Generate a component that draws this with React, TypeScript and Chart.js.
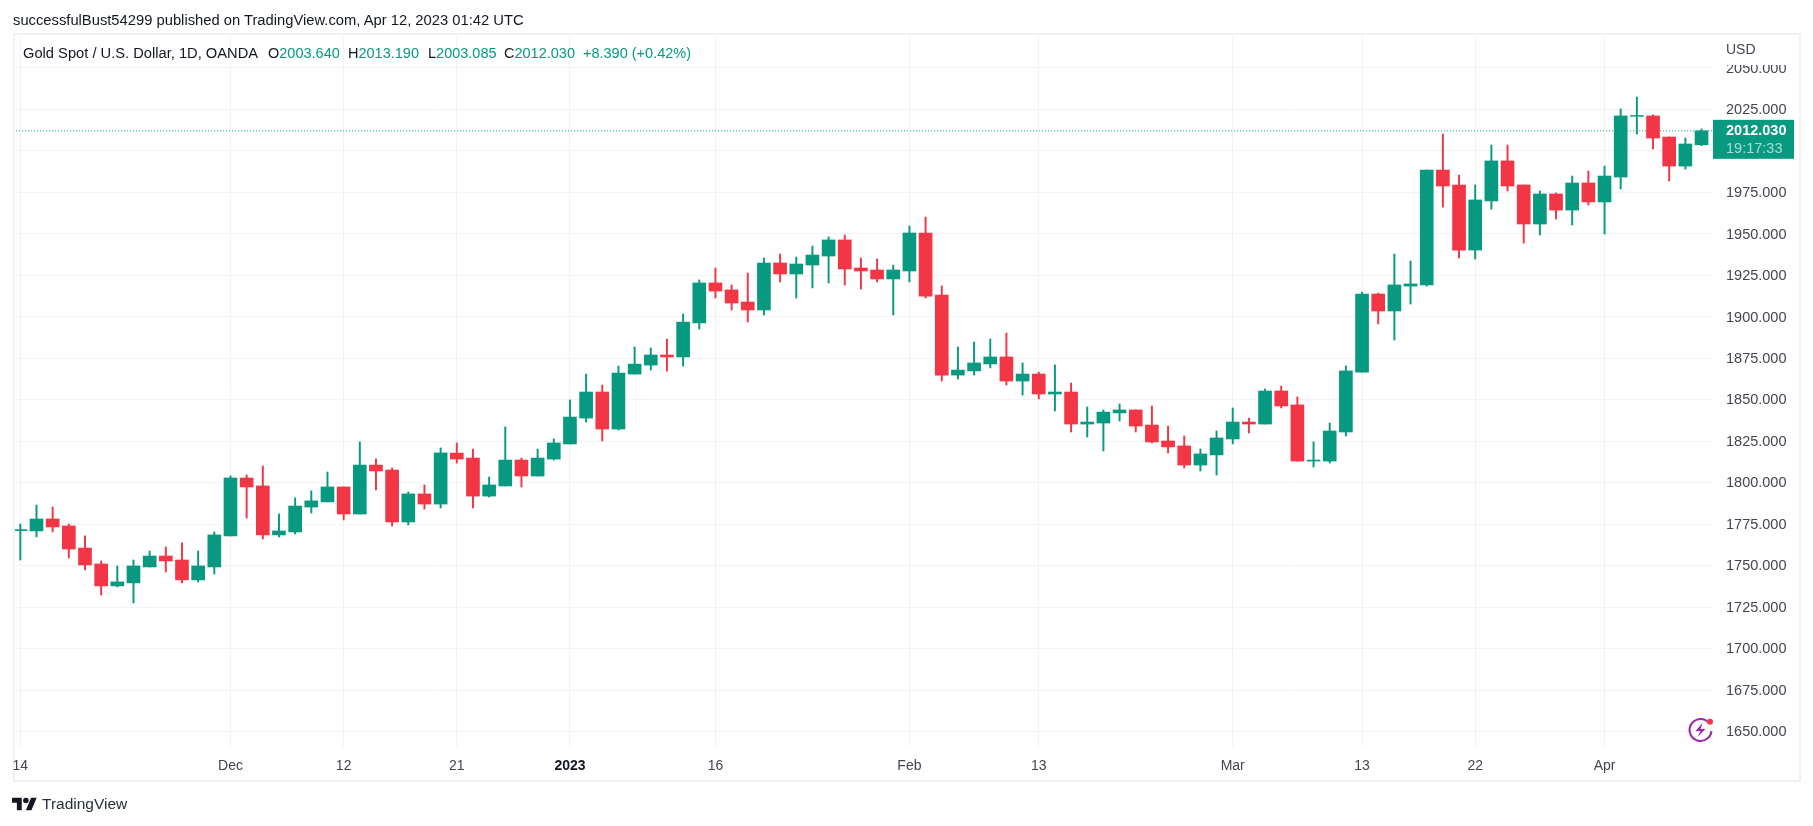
import React, { useEffect, useRef } from "react";
import { Chart, registerables } from "chart.js";

Chart.register(...registerables);

const opens = [1771.2,1771.0,1778.2,1774.0,1760.7,1751.1,1737.9,1739.7,1749.3,1755.9,1753.5,1741.5,1749.3,1768.0,1802.9,1798.1,1768.6,1770.4,1785.4,1788.5,1797.5,1781.2,1810.7,1807.7,1776.4,1793.3,1787.2,1817.9,1814.9,1792.0,1798.1,1813.7,1804.1,1814.3,1823.4,1839.0,1854.7,1832.4,1865.5,1870.9,1877.0,1875.8,1896.3,1920.4,1916.2,1908.9,1904.1,1932.4,1925.8,1931.2,1936.6,1946.3,1929.4,1928.2,1922.8,1927.6,1950.5,1913.1,1864.9,1867.4,1871.6,1875.8,1861.3,1865.5,1853.5,1854.7,1835.4,1836.0,1842.1,1843.9,1834.8,1825.2,1822.2,1810.7,1816.8,1826.4,1836.6,1835.4,1855.3,1846.9,1813.1,1813.1,1830.6,1866.7,1913.7,1903.5,1918.5,1919.2,1988.4,1979.4,1940.2,1969.8,1993.9,1979.4,1955.9,1974.0,1964.3,1980.6,1969.2,1984.2,2020.8,2021.0,2008.3,1990.8,2003.64];
const highs = [1775.2,1786.6,1785.4,1775.2,1768.0,1752.9,1749.9,1753.5,1758.9,1761.3,1763.8,1758.9,1770.4,1804.1,1804.7,1810.1,1781.2,1790.9,1795.1,1806.5,1797.5,1824.6,1814.4,1808.9,1794.5,1798.7,1821.0,1824.0,1820.3,1803.5,1833.6,1814.9,1820.3,1826.4,1849.9,1865.5,1858.9,1870.3,1881.8,1881.2,1886.6,1901.7,1922.2,1929.4,1919.2,1926.4,1935.4,1937.8,1936.0,1942.6,1948.1,1949.3,1935.4,1934.8,1931.2,1954.7,1960.1,1918.6,1881.8,1884.8,1886.6,1890.2,1872.2,1866.7,1871.0,1860.1,1845.7,1843.9,1847.5,1843.9,1846.3,1834.2,1828.2,1820.4,1831.2,1845.1,1839.0,1856.5,1858.3,1851.7,1824.6,1836.0,1870.4,1914.9,1914.3,1937.8,1933.6,1988.4,2010.1,1985.4,1979.4,2003.5,2003.5,1979.4,1975.8,1974.6,1984.8,1987.8,1990.8,2025.2,2032.4,2021.6,2008.3,2007.7,2013.19];
const lows = [1753.5,1767.4,1770.4,1754.7,1747.5,1732.4,1737.3,1727.6,1749.3,1746.3,1739.7,1740.3,1745.1,1768.0,1778.8,1766.2,1767.4,1769.2,1781.8,1788.5,1777.6,1781.2,1795.7,1774.0,1774.6,1784.2,1784.8,1811.9,1784.8,1791.4,1798.1,1797.5,1804.1,1813.7,1823.4,1836.6,1825.2,1831.8,1865.5,1867.9,1867.3,1870.3,1892.6,1911.3,1904.1,1896.9,1901.1,1921.0,1911.3,1917.4,1920.4,1919.2,1916.7,1921.0,1901.1,1921.0,1911.3,1861.3,1862.5,1864.9,1869.2,1858.9,1852.9,1850.5,1843.3,1830.6,1827.6,1819.2,1837.2,1830.6,1824.0,1818.0,1808.9,1807.1,1804.7,1823.4,1830.0,1835.4,1845.1,1813.1,1809.5,1811.9,1828.2,1866.7,1895.7,1886.0,1907.7,1918.5,1966.1,1935.4,1934.8,1964.9,1975.8,1944.4,1949.3,1958.9,1955.3,1967.4,1949.9,1977.0,2010.1,2001.1,1981.8,1989.0,2003.085];
const closes = [1771.8,1778.2,1773.4,1760.1,1750.5,1737.9,1740.3,1749.9,1755.9,1752.9,1741.5,1749.9,1768.6,1802.9,1797.5,1768.6,1771.0,1786.0,1789.1,1797.5,1781.2,1810.7,1807.1,1776.4,1793.3,1787.2,1818.0,1814.3,1792.0,1798.7,1813.7,1804.1,1814.9,1824.0,1839.6,1854.7,1832.4,1866.1,1871.5,1877.0,1875.8,1896.8,1920.4,1915.5,1908.3,1904.1,1932.4,1925.8,1931.8,1937.2,1946.3,1928.8,1927.6,1922.8,1928.2,1950.5,1912.5,1864.9,1867.9,1872.2,1875.8,1861.3,1865.5,1853.5,1854.7,1835.4,1836.6,1842.6,1843.9,1834.2,1824.6,1821.6,1810.7,1817.4,1827.0,1836.6,1835.4,1855.3,1846.3,1813.1,1813.7,1831.2,1867.4,1913.7,1903.5,1919.2,1919.8,1988.4,1978.8,1940.2,1970.4,1993.9,1978.8,1955.9,1974.0,1964.3,1980.6,1969.2,1984.8,2021.0,2021.3,2007.7,1990.8,2004.1,2012.03];

const priceTicks = [1650,1675,1700,1725,1750,1775,1800,1825,1850,1875,1900,1925,1950,1975,2000,2025,2050];
const timeTickIndex = [0,13,20,27,34,43,55,63,75,83,90,98];
const timeTickLabels = ["14","Dec","12","21","2023","16","Feb","13","Mar","13","22","Apr"];
const lastPrice = 2012.03;
const lastPriceText = "2012.030";
const countdownText = "19:17:33";
const publishedText = "successfulBust54299 published on TradingView.com, Apr 12, 2023 01:42 UTC";
const symbolText = "Gold Spot / U.S. Dollar, 1D, OANDA";
const ohlcLetters = ["O", "H", "L", "C"];
const ohlcValues = ["2003.640", "2013.190", "2003.085", "2012.030"];
const changeText = "+8.390 (+0.42%)";

const UP = "#089981";
const DOWN = "#f23645";
const GRID = "#f2f3f6";
const FRAME = "#eff1f7";
const TEXT = "#131722";
const AXIS_TEXT = "#43464f";
const FONT = '"Liberation Sans", Arial, sans-serif';

const overlayPlugin = {
  id: "overlay",
  beforeDraw(chart: any) {
    const c = chart.ctx;
    c.save();
    c.fillStyle = "#ffffff";
    c.fillRect(0, 0, chart.width, chart.height);
    c.strokeStyle = FRAME;
    c.lineWidth = 2;
    c.strokeRect(14, 34, 1786, 747);
    c.restore();
  },
  afterDraw(chart: any) {
    const c = chart.ctx;
    const y = chart.scales.y;
    const area = chart.chartArea;
    c.save();
    c.fillStyle = "#ffffff";
    c.fillRect(area.right + 1, area.top, 84, 29);
    c.fillStyle = AXIS_TEXT;
    c.font = `14px ${FONT}`;
    c.textBaseline = "middle";
    c.textAlign = "left";
    c.fillText("USD", 1726, 50);

    const py = y.getPixelForValue(lastPrice);
    c.fillStyle = UP;
    c.fillRect(area.right, py - 11, 81, 39);
    c.textAlign = "left";
    c.fillStyle = "#ffffff";
    c.font = `bold 14.5px ${FONT}`;
    c.fillText(lastPriceText, 1726, py + 0.5);
    c.fillStyle = "rgba(255,255,255,0.65)";
    c.font = `14.5px ${FONT}`;
    c.fillText(countdownText, 1726, py + 18.5);

    const cx = 1700.5, cy = 730, r = 11;
    c.strokeStyle = "#9c27b0";
    c.lineWidth = 2;
    c.beginPath();
    c.arc(cx, cy, r, 0.1, Math.PI * 1.72);
    c.stroke();
    c.fillStyle = "#9c27b0";
    c.beginPath();
    c.moveTo(cx + 2, cy - 7);
    c.lineTo(cx - 5, cy + 1);
    c.lineTo(cx, cy + 1);
    c.lineTo(cx - 3, cy + 7);
    c.lineTo(cx + 5, cy - 1);
    c.lineTo(cx, cy - 1);
    c.closePath();
    c.fill();
    c.fillStyle = DOWN;
    c.beginPath();
    c.arc(1710, 721.7, 3, 0, Math.PI * 2);
    c.fill();
    c.restore();
  },
};

const textStyle: React.CSSProperties = {
  position: "absolute",
  fontFamily: FONT,
  whiteSpace: "pre",
  lineHeight: "18px",
};

export default function App() {
  const ref = useRef<HTMLCanvasElement>(null);

  useEffect(() => {
    const candleColors = closes.map((v, i) => (v >= opens[i] ? UP : DOWN));
    const chart = new Chart(ref.current as HTMLCanvasElement, {
      type: "bar",
      data: {
        datasets: [
          {
            type: "line",
            data: [
              { x: -1, y: lastPrice },
              { x: 106, y: lastPrice },
            ],
            borderColor: UP,
            borderWidth: 1,
            borderDash: [1, 2],
            pointRadius: 0,
            order: 3,
          },
          {
            data: highs.map((v, i) => ({ x: i, y: [lows[i], v] })),
            backgroundColor: candleColors,
            barThickness: 1.3,
            borderWidth: 0,
            order: 2,
          },
          {
            data: opens.map((v, i) => ({ x: i, y: [v, closes[i]] })),
            backgroundColor: candleColors,
            barThickness: 13,
            borderWidth: 0,
            order: 1,
          },
        ] as any,
      },
      options: {
        responsive: false,
        animation: false,
        devicePixelRatio: 1,
        grouped: false,
        layout: { padding: { left: 15, top: 36, right: 13, bottom: 45 } },
        plugins: { legend: { display: false }, tooltip: { enabled: false }, title: { display: false } },
        scales: {
          x: {
            type: "linear",
            offset: false,
            min: -0.33,
            max: 104.71,
            afterBuildTicks: (s: any) => {
              s.ticks = timeTickIndex.map((value) => ({ value }));
            },
            afterFit: (s: any) => {
              s.height = 34;
            },
            border: { display: false },
            grid: { offset: false, color: GRID, lineWidth: 1, drawTicks: false },
            ticks: {
              autoSkip: false,
              maxRotation: 0,
              padding: 11,
              color: (ctx: any) => (timeTickLabels[ctx.index] === "2023" ? TEXT : AXIS_TEXT),
              font: (ctx: any) => ({
                family: FONT,
                size: 14,
                weight: timeTickLabels[ctx.index] === "2023" ? "bold" : "normal",
              }),
              callback: (v: any) => timeTickLabels[timeTickIndex.indexOf(v)],
            },
          },
          y: {
            position: "right",
            min: 1640.84,
            max: 2069.16,
            afterBuildTicks: (s: any) => {
              s.ticks = priceTicks.map((value) => ({ value }));
            },
            afterFit: (s: any) => {
              s.width = 87;
            },
            border: { display: false },
            grid: { color: GRID, lineWidth: 1, drawTicks: false },
            ticks: {
              padding: 13,
              labelOffset: 0.7,
              color: AXIS_TEXT,
              font: { family: FONT, size: 14.5 },
              callback: (v: any) => Number(v).toFixed(3),
            },
          },
        },
      } as any,
      plugins: [overlayPlugin],
    });
    return () => chart.destroy();
  }, []);

  return (
    <div style={{ position: "absolute", left: 0, top: 0, width: 1813, height: 826, overflow: "hidden", background: "#fff" }}>
      <canvas ref={ref} width={1813} height={826} style={{ display: "block", width: 1813, height: 826 }} />
      <div style={{ ...textStyle, left: 13, top: 11, fontSize: 14.75, color: TEXT }}>{publishedText}</div>
      <div style={{ ...textStyle, left: 23, top: 44, fontSize: 14.7, color: TEXT }}>{symbolText}</div>
      {ohlcLetters.map((letter, i) => (
        <div key={letter} style={{ ...textStyle, left: [268, 348, 428, 504][i], top: 44, fontSize: 14.5, color: TEXT }}>
          {letter}
          <span style={{ color: UP }}>{ohlcValues[i]}</span>
        </div>
      ))}
      <div style={{ ...textStyle, left: 583, top: 44, fontSize: 14.5, color: UP }}>{changeText}</div>
      <svg width={25} height={19.5} viewBox="0 0 36 28" style={{ position: "absolute", left: 12, top: 795 }}>
        <path d="M14 22H7V11H0V4h14v18zM28 22h-8l7.5-18h8L28 22z" fill="#131722" />
        <circle cx={20} cy={8} r={4} fill="#131722" />
      </svg>
      <div style={{ ...textStyle, left: 42, top: 795, fontSize: 15.5, color: "#2a2e39" }}>TradingView</div>
    </div>
  );
}
